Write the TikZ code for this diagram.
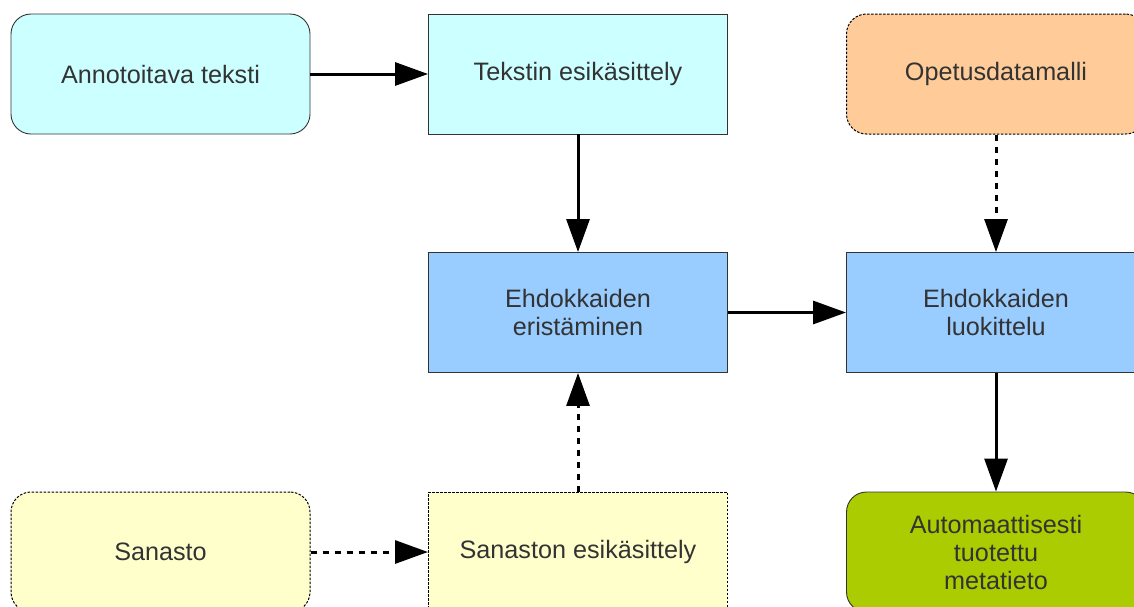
\documentclass[tikz,border=0pt]{standalone}
\usepackage{fontspec}
\setmainfont{Liberation Sans}
\usetikzlibrary{arrows.meta}
\definecolor{txt}{HTML}{333333}
\definecolor{cyanf}{HTML}{CCFFFF}
\definecolor{orangef}{HTML}{FFCC99}
\definecolor{bluef}{HTML}{99CCFF}
\definecolor{yellowf}{HTML}{FFFFCC}
\definecolor{greenf}{HTML}{AACC00}
\definecolor{border}{HTML}{333333}
\tikzset{
  box/.style={draw=border, line width=0.9pt, minimum width=299pt, minimum height=120pt,
    inner sep=0pt, align=center, text=txt, font=\fontsize{25.2}{28}\selectfont},
  roundbox/.style={box, rounded corners=20pt},
  dotbox/.style={draw=black, line width=1pt, dash pattern=on 2.5pt off 1.5pt},
  conn/.style={line width=3pt, -{Triangle[length=33pt,width=23pt]}},
  dconn/.style={conn, dash pattern=on 6pt off 6pt},
}
\begin{document}
\begin{tikzpicture}[x=1pt,y=-1pt]
\clip (0,0) rectangle (1134,606);
\fill[white] (0,0) rectangle (1134,606);
\node[roundbox, fill=cyanf] (ann) at (160.5,74) {\raisebox{-2pt}{Annotoitava teksti}};
\node[box, fill=cyanf] (tek) at (578,74) {\raisebox{-2pt}{Tekstin esikäsittely}};
\node[roundbox, dotbox, fill=orangef] (ope) at (996,74) {\raisebox{-2pt}{Opetusdatamalli}};
\node[box, fill=bluef] (eri) at (578,312.5) {Ehdokkaiden\\eristäminen};
\node[box, fill=bluef] (luo) at (996,312.5) {Ehdokkaiden\\luokittelu};
\node[roundbox, dotbox, fill=yellowf] (san) at (160.5,552) {Sanasto};
\node[box, dotbox, fill=yellowf] (sesi) at (578,552) {Sanaston esikäsittely};
\node[roundbox, fill=greenf] (aut) at (996,552) {Automaattisesti\\tuotettu\\metatieto};
\draw[conn] (ann.east) -- (tek.west);
\draw[conn] (tek.south) -- (eri.north);
\draw[conn] (eri.east) -- (luo.west);
\draw[dconn] (ope.south) -- (luo.north);
\draw[conn] (luo.south) -- (aut.north);
\draw[dconn] (san.east |- sesi.west) -- (sesi.west);
\draw[dconn] (sesi.north) -- (eri.south);
\end{tikzpicture}
\end{document}
